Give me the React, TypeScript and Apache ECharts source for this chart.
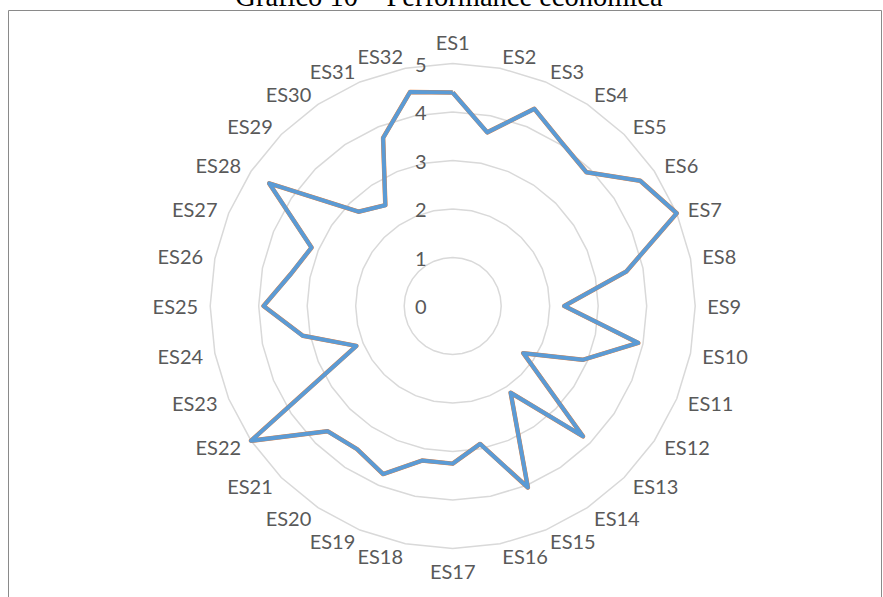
import React, { useEffect, useRef } from "react";
import * as echarts from "echarts";

// Indicator names, clockwise from the top
const categories = [
  "ES1", "ES2", "ES3", "ES4", "ES5", "ES6", "ES7", "ES8",
  "ES9", "ES10", "ES11", "ES12", "ES13", "ES14", "ES15", "ES16",
  "ES17", "ES18", "ES19", "ES20", "ES21", "ES22", "ES23", "ES24",
  "ES25", "ES26", "ES27", "ES28", "ES29", "ES30", "ES31", "ES32",
];

// Scores per indicator (0–5 scale)
const scoreValues = [
  4.4, 3.65, 4.4, 4.05, 3.9, 4.65, 5.0, 3.65,
  2.3, 3.9, 2.9, 1.75, 3.8, 2.15, 4.05, 2.9,
  3.25, 3.25, 3.75, 3.55, 3.65, 5.0, 2.15, 3.15,
  3.9, 3.4, 3.15, 4.55, 2.75, 2.5, 3.75, 4.5,
];

// Second series drawn underneath
const referenceValues = [
  4.4, 3.65, 4.4, 4.05, 3.9, 4.65, 5.0, 3.65,
  2.3, 3.9, 2.9, 1.75, 3.8, 2.15, 4.05, 2.9,
  3.25, 3.25, 3.75, 3.55, 3.65, 5.0, 2.15, 3.15,
  3.9, 3.4, 3.15, 4.55, 2.75, 2.5, 3.75, 4.5,
];

// Radial scale
const radialTicks = [0, 1, 2, 3, 4, 5];

const titleText = "Gráfico 10 – Performance económica";

const LABEL_FONT = "Lato, 'Open Sans', sans-serif";
const GREY_TEXT = "#595959";

// ECharts lays radar indicators out counter-clockwise; walk the lists
// in reverse after the first item so they run clockwise on screen.
function clockwise<T>(list: T[]): T[] {
  return [list[0], ...list.slice(1).reverse()];
}

export default function App() {
  const ref = useRef<HTMLDivElement>(null);

  useEffect(() => {
    if (!ref.current) return;
    const chart = echarts.init(ref.current, undefined, { renderer: "svg" });

    const rMin = radialTicks[0];
    const rMax = radialTicks[radialTicks.length - 1];
    const step = radialTicks[1] - radialTicks[0];

    const indicator = clockwise(categories).map((name, i) => {
      const base: any = { name, min: rMin, max: rMax };
      if (i === 0) {
        base.axisLabel = {
          show: true,
          color: GREY_TEXT,
          fontFamily: LABEL_FONT,
          fontSize: 20,
          margin: 26,
          formatter: (v: number) => String(v),
        };
      }
      return base;
    });

    chart.setOption({
      animation: false,
      backgroundColor: "#ffffff",
      graphic: [
        {
          type: "rect",
          shape: { x: 8.5, y: 10.5, width: 873, height: 600 },
          style: { fill: "none", stroke: "#8a8a8a", lineWidth: 1 },
          z: 0,
        },
        {
          type: "text",
          x: 449,
          y: 11,
          style: {
            text: titleText,
            font: "normal 28.5px 'Liberation Serif', 'Times New Roman', serif",
            fill: "#000000",
            textAlign: "center",
            textVerticalAlign: "bottom",
          },
          z: 10,
        },
      ],
      radar: {
        center: [452.7, 306],
        radius: 242.5,
        startAngle: 90,
        shape: "polygon",
        splitNumber: (rMax - rMin) / step,
        indicator,
        axisName: {
          color: GREY_TEXT,
          fontFamily: LABEL_FONT,
          fontSize: 20,
        },
        nameGap: 12,
        axisLine: { show: false },
        axisTick: { show: false },
        axisLabel: { show: false },
        splitLine: { lineStyle: { color: "#d9d9d9", width: 1.5 } },
        splitArea: { show: false },
      },
      series: [
        {
          type: "radar",
          symbol: "none",
          z: 2,
          data: [
            {
              value: clockwise(referenceValues),
              lineStyle: { color: "#ED7D31", width: 4.5 },
            },
          ],
        },
        {
          type: "radar",
          symbol: "none",
          z: 3,
          data: [
            {
              value: clockwise(scoreValues),
              lineStyle: { color: "#5B9BD5", width: 4 },
            },
          ],
        },
      ],
    });

    return () => chart.dispose();
  }, []);

  return (
    <div
      ref={ref}
      style={{ position: "absolute", left: 0, top: 0, width: 883, height: 597 }}
    />
  );
}
